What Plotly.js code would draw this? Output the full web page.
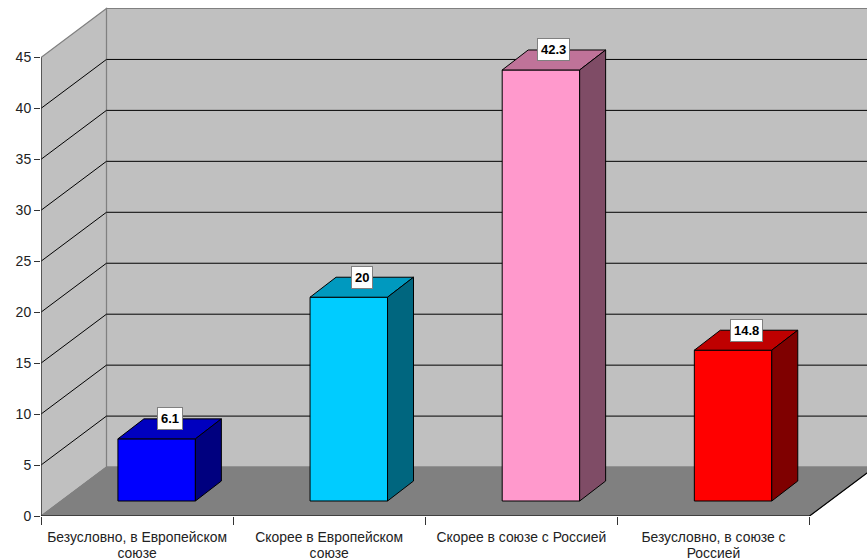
<!DOCTYPE html>
<html><head><meta charset="utf-8">
<script src="https://cdn.plot.ly/plotly-3.0.1.min.js"></script>
<style>html,body{margin:0;padding:0;background:#fff;overflow:hidden}</style>
</head><body><div id="chart" style="width:867px;height:560px"></div>
<script>
const categories = [["Безусловно, в Европейском","союзе"],["Скорее в Европейском","союзе"],["Скорее в союзе с Россией"],["Безусловно, в союзе с","Россией"]];
const values = [6.1, 20, 42.3, 14.8];
const frontColors = ["#0000FF","#00CCFF","#FF99CC","#FF0000"];
const topColors = ["#0000BF","#0099BF","#BF7399","#BF0000"];
const sideColors = ["#00007F","#00667F","#7F4C66","#7F0000"];
const yTicks = [0,5,10,15,20,25,30,35,40,45];

// Pseudo-3D projection, expressed in axis units
const L=40.5, T=0, pxX=192.25, pxY=10.2, W=867, H=560, Y0=516.5;
const dX=65.5/pxX, dY=49/pxY, yMax=Y0/pxY, xMax=(W-L)/pxX, yTop=45;
const barW=77.5/pxX, d0=15/49, d1=35/49;

const xc=values.map((_,i)=>i+0.5+19.6/pxX);
const base=d0*dY;
const depthX=26/pxX, depthY=(d1-d0)*dY;

const traces=[{type:'bar',x:xc,y:values,base:base,width:barW,
  marker:{color:frontColors,line:{color:'#000',width:1}},hoverinfo:'skip',showlegend:false}];

values.forEach((v,i)=>{
  const l=xc[i]-barW/2,r=xc[i]+barW/2,b=base,t=base+v;
  traces.push({type:'scatter',mode:'lines',x:[l,r,r+depthX,l+depthX,l],y:[t,t,t+depthY,t+depthY,t],
    fill:'toself',fillcolor:topColors[i],line:{color:'#000',width:1},hoverinfo:'skip',showlegend:false});
  traces.push({type:'scatter',mode:'lines',x:[r,r+depthX,r+depthX,r,r],y:[b,b+depthY,t+depthY,t,b],
    fill:'toself',fillcolor:sideColors[i],line:{color:'#000',width:1},hoverinfo:'skip',showlegend:false});
});
// axis lines
traces.push({type:'scatter',mode:'lines',x:[0,0],y:[0,yTop],line:{color:'#333',width:1.3},cliponaxis:false,hoverinfo:'skip',showlegend:false});
traces.push({type:'scatter',mode:'lines',x:[0,4,4+dX],y:[0,0,dY],line:{color:'#000',width:1.2},cliponaxis:false,hoverinfo:'skip',showlegend:false});

const poly=pts=>'M'+pts.map(p=>p.join(',')).join('L')+'Z';
const shapes=[
 {type:'path',layer:'below',xref:'x',yref:'y',path:poly([[dX,dY],[xMax+1,dY],[xMax+1,yTop+dY],[dX,yTop+dY]]),fillcolor:'#C0C0C0',line:{color:'#808080',width:1.2}},
 {type:'path',layer:'below',xref:'x',yref:'y',path:poly([[0,0],[dX,dY],[dX,yTop+dY],[0,yTop]]),fillcolor:'#C0C0C0',line:{color:'#808080',width:1.2}},
 {type:'path',layer:'below',xref:'x',yref:'y',path:poly([[0,0],[4,0],[4+dX,dY],[dX,dY]]),fillcolor:'#808080',line:{color:'#808080',width:1}}
];
yTicks.filter(t=>t>0&&t<45).forEach(t=>{
  shapes.push({type:'path',layer:'below',xref:'x',yref:'y',path:`M0,${t}L${dX},${t+dY}L${xMax+1},${t+dY}`,line:{color:'#000',width:1}});
});

const annotations=values.map((v,i)=>({
  x:xc[i]+depthX/2,y:base+v+depthY/2,xref:'x',yref:'y',yshift:10,showarrow:false,
  text:String(v),font:{family:'"Liberation Sans",Arial,sans-serif',size:13,color:'#000',weight:700},
  bgcolor:'#fff',bordercolor:'#808080',borderwidth:1,borderpad:3
}));

const tickText=categories.map(lines=>lines.map(s=>`<span style="font-size:13.9px">${s}</span>`).join('<br>'));

const layout={width:W,height:H,margin:{l:L,r:0,t:T,b:H-Y0,pad:0},
  paper_bgcolor:'#fff',plot_bgcolor:'#fff',showlegend:false,shapes,annotations,
  font:{family:'"Liberation Sans",Arial,sans-serif',size:12,color:'#000'},
  xaxis:{range:[0,xMax],tickmode:'array',tickvals:[0.5,1.5,2.5,3.5],ticktext:tickText,ticks:'',showgrid:false,zeroline:false,showline:false,
    tickangle:0,automargin:false,ticklabelstandoff:13,
    minor:{tickmode:'array',tickvals:[0,1,2,3,4],ticks:'outside',ticklen:8,tickwidth:1,tickcolor:'#333',showgrid:false},
    tickfont:{size:12.3,color:'#222'}},
  yaxis:{range:[0,yMax],tickmode:'array',tickvals:yTicks,ticks:'outside',ticklen:6,tickwidth:1,tickcolor:'#333',showgrid:false,zeroline:false,showline:false,automargin:false,
    tickfont:{size:14,color:'#222'}},
  hovermode:false
};
Plotly.newPlot('chart',traces,layout,{displayModeBar:false,staticPlot:true});
</script></body></html>
